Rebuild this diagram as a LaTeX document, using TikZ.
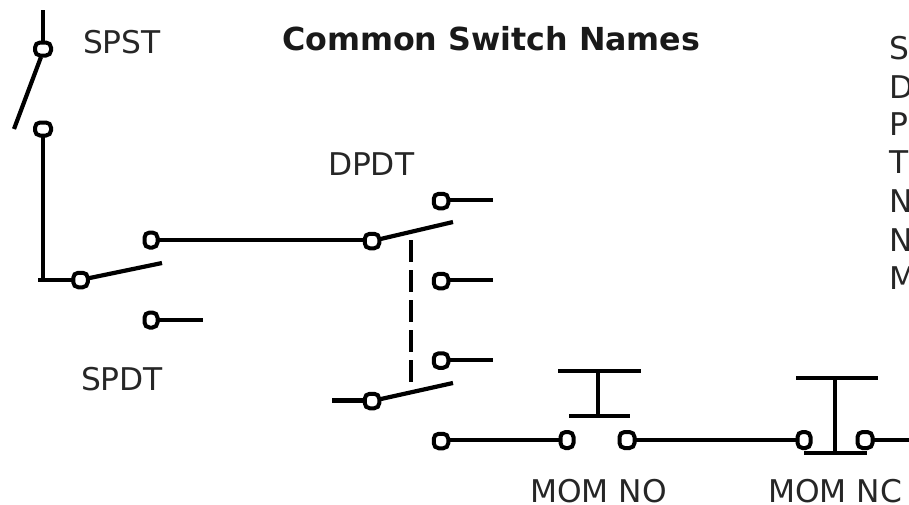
\documentclass[tikz,border=0pt]{standalone}
\usepackage{fontspec}
\setmainfont{DejaVu Sans}
\tikzset{
  wire/.style={line width=4.2pt, line cap=butt, black},
  terminal/.style={draw=black, fill=white, line width=4pt, rectangle, rounded corners=5pt, minimum width=14.5pt, minimum height=14.5pt, inner sep=0pt, outer sep=0pt},
  narrowterm/.style={terminal, minimum width=13pt},
  gang/.style={wire, dash pattern=on 22pt off 8pt},
  lbl/.style={anchor=base west, inner sep=0pt, outer sep=0pt, text=black!85, font=\fontsize{31.3}{31.3}\selectfont},
  ttl/.style={lbl, text=black!90, font=\fontsize{31.7}{31.7}\selectfont\bfseries}
}
\begin{document}
\begin{tikzpicture}[x=1pt,y=-1pt]
\useasboundingbox[fill=white] (0,0) rectangle (909,504);
% free ends
\coordinate (spstTop) at (43,10);
\coordinate (spstLever) at (14,129);
\coordinate (corner) at (43,280);
\coordinate (spdtStub) at (38,280);
\coordinate (spdtLever) at (162,263);
\coordinate (spdtOut) at (203,320);
\coordinate (dLeverA) at (453,222);
\coordinate (dLeverB) at (453,383);
\coordinate (dInB) at (332,400.5);
\coordinate (dOutA) at (493,200);
\coordinate (dOutB) at (493,280);
\coordinate (dOutC) at (493,360);
\coordinate (gangTop) at (411,240);
\coordinate (gangBot) at (411,384);
\coordinate (noTopL) at (558,371);
\coordinate (noTopR) at (641,371);
\coordinate (noStemT) at (598,371);
\coordinate (noStemB) at (598,416);
\coordinate (noLowL) at (569,416);
\coordinate (noLowR) at (630,416);
\coordinate (ncTopL) at (796,378);
\coordinate (ncTopR) at (878,378);
\coordinate (ncStemT) at (835,378);
\coordinate (ncStemB) at (835,453);
\coordinate (ncLowL) at (804,453);
\coordinate (ncLowR) at (867,453);
\coordinate (ncOut) at (909,440);
% wires
\draw[wire] (spstTop) -- (43,49);
\draw[wire] (41,57) -- (spstLever);
\draw[wire] (43,129) -- (corner);
\draw[wire] (spdtStub) -- (80,280);
\draw[wire] (80,280) -- (spdtLever);
\draw[wire] (151,240) -- (372,240);
\draw[wire] (151,320) -- (spdtOut);
\draw[wire] (372,241) -- (dLeverA);
\draw[wire] (441,200) -- (dOutA);
\draw[wire] (441,280) -- (dOutB);
\draw[wire] (441,360) -- (dOutC);
\draw[wire] (dInB) -- (372,400.5);
\draw[wire] (372,401) -- (dLeverB);
\draw[gang] (gangTop) -- (gangBot);
\draw[wire] (441,440) -- (567,440);
\draw[wire] (noTopL) -- (noTopR);
\draw[wire] (noStemT) -- (noStemB);
\draw[wire] (noLowL) -- (noLowR);
\draw[wire] (627,440) -- (804,440);
\draw[wire] (ncTopL) -- (ncTopR);
\draw[wire] (ncStemT) -- (ncStemB);
\draw[wire] (ncLowL) -- (ncLowR);
\draw[wire] (865,440) -- (ncOut);
% terminals
\node[terminal, minimum width=16pt, minimum height=13pt] (spstA) at (43,49) {};
\node[terminal, minimum width=16pt, minimum height=13pt] (spstB) at (43,129) {};
\node[terminal] (spdtC) at (80.5,280) {};
\node[narrowterm, minimum height=15pt] (spdtA) at (151,240) {};
\node[narrowterm, minimum height=15pt] (spdtB) at (151,320) {};
\node[terminal] (dCA) at (372,241) {};
\node[terminal] (dA1) at (441,201) {};
\node[terminal] (dA2) at (441,281) {};
\node[terminal] (dB1) at (441,360.5) {};
\node[terminal] (dCB) at (372,401) {};
\node[terminal] (dB2) at (441,441) {};
\node[narrowterm, minimum height=16pt] (noL) at (567,440) {};
\node[narrowterm, minimum height=16pt, minimum width=15pt] (noR) at (627,440) {};
\node[narrowterm, minimum height=16pt] (ncL) at (804,440) {};
\node[narrowterm, minimum height=16pt, minimum width=15pt] (ncR) at (865,440) {};
% labels
\node[lbl] (tSPST) at (83,53) {SPST};
\node[lbl] (tDPDT) at (328,175) {DPDT};
\node[lbl] (tSPDT) at (81,390) {SPDT};
\node[lbl] (tNO) at (530,502) {MOM NO};
\node[lbl] (tNC) at (768,502) {MOM NC};
\node[ttl] (title) at (282,50) {Common Switch Names};
\node[lbl] (r1) at (889,59) {S};
\node[lbl] (r2) at (889,98) {D};
\node[lbl] (r3) at (889,135) {P};
\node[lbl] (r4) at (889,173) {T};
\node[lbl] (r5) at (889,212) {N};
\node[lbl] (r6) at (889,251) {N};
\node[lbl] (r7) at (889,289) {M};
\end{tikzpicture}
\end{document}
